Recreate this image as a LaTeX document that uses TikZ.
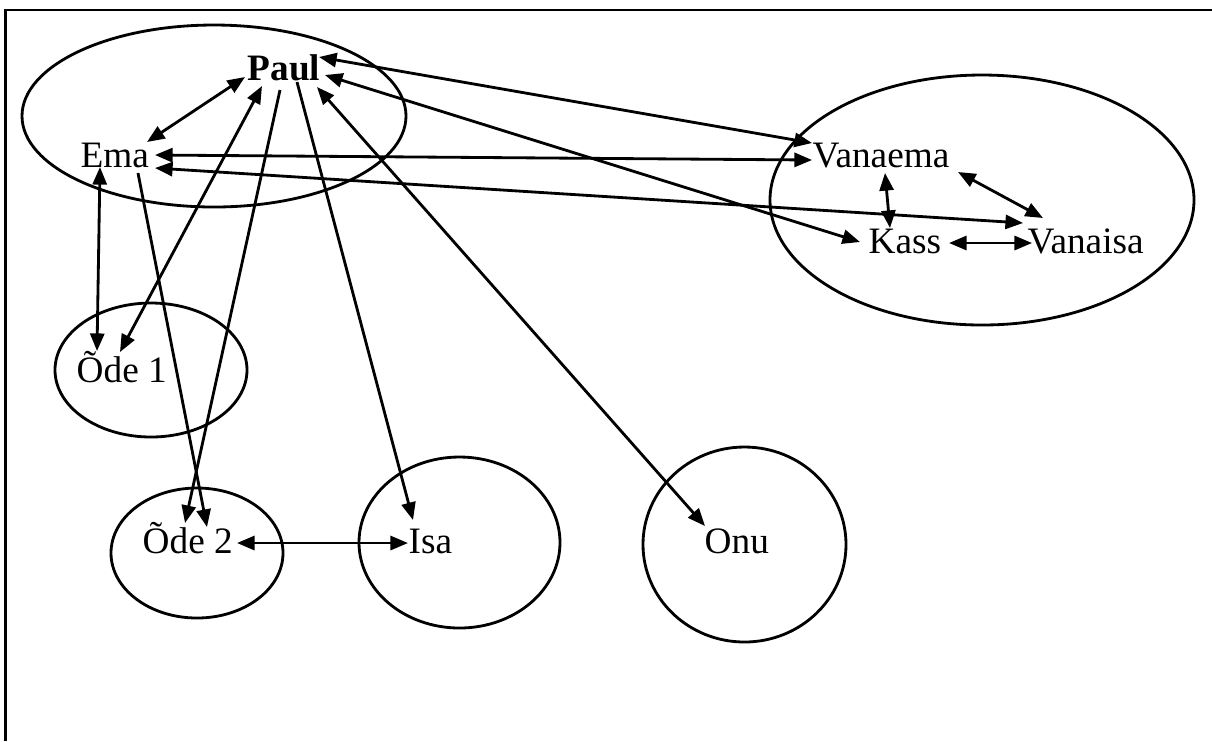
\documentclass[tikz,border=0pt]{standalone}
\usepackage{fontspec}
\setmainfont{Liberation Serif}
\usetikzlibrary{arrows.meta}
\begin{document}
\begin{tikzpicture}[x=0.01cm,y=-0.01cm,
  lbl/.style={anchor=base west,inner sep=0pt,font=\fontsize{10.6}{12}\selectfont},
  grp/.style={line width=0.8pt},
  frame/.style={line width=0.75pt},
  link/.style={line width=0.8pt,{Triangle[length=5pt,width=4pt]}-{Triangle[length=5pt,width=4pt]}},
  one/.style={line width=0.8pt,-{Triangle[length=5pt,width=4pt]}}]
\useasboundingbox (0,0) rectangle (1212,741);
% frame
\draw[frame] (5.7,741) -- (5.7,10) -- (1212,10);
% group ellipses
\draw[grp] (214,116) ellipse [x radius=192,y radius=91];
\draw[grp] (982,200) ellipse [x radius=212,y radius=125];
\draw[grp] (151,370) ellipse [x radius=96,y radius=67];
\draw[grp] (197,553) ellipse [x radius=86,y radius=65];
\draw[grp] (459.5,542.5) ellipse [x radius=100.5,y radius=85.5];
\draw[grp] (744.5,544.5) ellipse [x radius=101.5,y radius=97.5];
% labels
\node[lbl,font=\fontsize{10.6}{12}\selectfont\bfseries] (Paul) at (247,80) {Paul};
\node[lbl] (Ema) at (80,167) {Ema};
\node[lbl] (Vanaema) at (812,167) {Vanaema};
\node[lbl] (Kass) at (868,253) {Kass};
\node[lbl] (Vanaisa) at (1027,253) {Vanaisa};
\node[lbl] (Ode1) at (76,382) {Õde 1};
\node[lbl] (Ode2) at (142,553) {Õde 2};
\node[lbl] (Isa) at (408,553) {Isa};
\node[lbl] (Onu) at (704,553) {Onu};
% connectors
\draw[link] ([shift={(67,-25)}]Ema.base west) -- ([shift={(-2,-3)}]Paul.base west);
\draw[link] ([shift={(44,-30)}]Ode1.base west) -- ([shift={(15,6)}]Paul.base west);
\draw[one] ([shift={(33,10)}]Paul.base west) -- ([shift={(43,-30)}]Ode2.base west);
\draw[one] ([shift={(50,2)}]Paul.base west) -- ([shift={(5,-33)}]Isa.base west);
\draw[link] ([shift={(1,-27)}]Onu.base west) -- ([shift={(70,7)}]Paul.base west);
\draw[link] ([shift={(72,-23)}]Paul.base west) -- ([shift={(0,-24)}]Vanaema.base west);
\draw[link] ([shift={(78,-5)}]Paul.base west) -- ([shift={(-8,-11)}]Kass.base west);
\draw[link] ([shift={(75,-12)}]Ema.base west) -- ([shift={(0,-7)}]Vanaema.base west);
\draw[link] ([shift={(75,1)}]Ema.base west) -- ([shift={(-4,-30)}]Vanaisa.base west);
\draw[link] ([shift={(20,0)}]Ema.base west) -- ([shift={(21,-31)}]Ode1.base west);
\draw[one] ([shift={(58,6)}]Ema.base west) -- ([shift={(65,-26)}]Ode2.base west);
\draw[link] ([shift={(73,6)}]Vanaema.base west) -- ([shift={(22,-25)}]Kass.base west);
\draw[link] ([shift={(146,5)}]Vanaema.base west) -- ([shift={(16,-35)}]Vanaisa.base west);
\draw[link] ([shift={(81,-10)}]Kass.base west) -- ([shift={(5,-10)}]Vanaisa.base west);
\draw[link] ([shift={(95,-10)}]Ode2.base west) -- ([shift={(0,-10)}]Isa.base west);
\end{tikzpicture}
\end{document}
